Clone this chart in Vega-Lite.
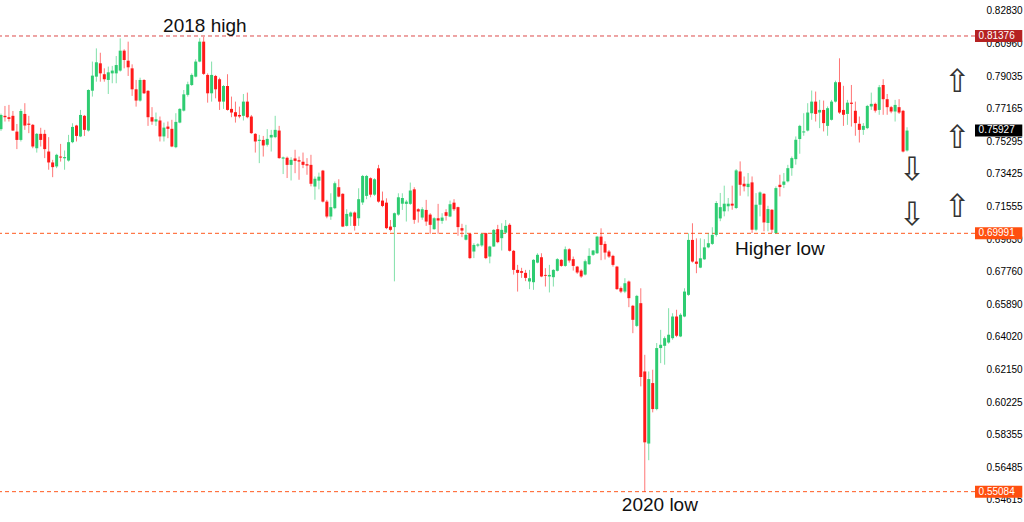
{
  "$schema": "https://vega.github.io/schema/vega-lite/v6.json",
  "autosize": {"type": "none"},
  "padding": {"left": 0, "top": 0, "right": 49, "bottom": 0},
  "width": 975,
  "height": 522,
  "background": "#ffffff",
  "config": {"view": {"stroke": null}, "axis": {"labelOverlap": false}},
  "datasets": {
    "candles": [
      {"i":0,"o":0.7600,"h":0.7690,"l":0.7590,"c":0.7682},
      {"i":1,"o":0.7677,"h":0.7734,"l":0.7644,"c":0.7669},
      {"i":2,"o":0.7669,"h":0.7740,"l":0.7644,"c":0.7659},
      {"i":3,"o":0.7677,"h":0.7705,"l":0.7590,"c":0.7592},
      {"i":4,"o":0.7586,"h":0.7630,"l":0.7485,"c":0.7538},
      {"i":5,"o":0.7538,"h":0.7717,"l":0.7529,"c":0.7705},
      {"i":6,"o":0.7688,"h":0.7750,"l":0.7596,"c":0.7621},
      {"i":7,"o":0.7632,"h":0.7677,"l":0.7577,"c":0.7625},
      {"i":8,"o":0.7625,"h":0.7630,"l":0.7490,"c":0.7500},
      {"i":9,"o":0.7490,"h":0.7578,"l":0.7465,"c":0.7573},
      {"i":10,"o":0.7573,"h":0.7608,"l":0.7500,"c":0.7538},
      {"i":11,"o":0.7573,"h":0.7596,"l":0.7433,"c":0.7485},
      {"i":12,"o":0.7471,"h":0.7554,"l":0.7366,"c":0.7408},
      {"i":13,"o":0.7408,"h":0.7423,"l":0.7323,"c":0.7381},
      {"i":14,"o":0.7385,"h":0.7458,"l":0.7375,"c":0.7452},
      {"i":15,"o":0.7442,"h":0.7515,"l":0.7413,"c":0.7436},
      {"i":16,"o":0.7432,"h":0.7477,"l":0.7366,"c":0.7439},
      {"i":17,"o":0.7419,"h":0.7567,"l":0.7413,"c":0.7525},
      {"i":18,"o":0.7525,"h":0.7634,"l":0.7519,"c":0.7613},
      {"i":19,"o":0.7621,"h":0.7625,"l":0.7529,"c":0.7561},
      {"i":20,"o":0.7558,"h":0.7711,"l":0.7554,"c":0.7682},
      {"i":21,"o":0.7677,"h":0.7682,"l":0.7561,"c":0.7596},
      {"i":22,"o":0.7592,"h":0.7830,"l":0.7586,"c":0.7826},
      {"i":23,"o":0.7822,"h":0.7990,"l":0.7788,"c":0.7909},
      {"i":24,"o":0.7903,"h":0.8066,"l":0.7874,"c":0.7986},
      {"i":25,"o":0.7980,"h":0.8041,"l":0.7874,"c":0.7922},
      {"i":26,"o":0.7917,"h":0.7951,"l":0.7874,"c":0.7888},
      {"i":27,"o":0.7884,"h":0.7961,"l":0.7803,"c":0.7928},
      {"i":28,"o":0.7922,"h":0.7965,"l":0.7865,"c":0.7938},
      {"i":29,"o":0.7922,"h":0.8022,"l":0.7865,"c":0.7970},
      {"i":30,"o":0.7938,"h":0.8124,"l":0.7932,"c":0.8053},
      {"i":31,"o":0.8053,"h":0.8061,"l":0.7951,"c":0.7999},
      {"i":32,"o":0.7995,"h":0.8105,"l":0.7907,"c":0.7957},
      {"i":33,"o":0.7951,"h":0.7974,"l":0.7792,"c":0.7830},
      {"i":34,"o":0.7830,"h":0.7884,"l":0.7730,"c":0.7765},
      {"i":35,"o":0.7765,"h":0.7897,"l":0.7759,"c":0.7884},
      {"i":36,"o":0.7884,"h":0.7888,"l":0.7803,"c":0.7807},
      {"i":37,"o":0.7821,"h":0.7826,"l":0.7619,"c":0.7669},
      {"i":38,"o":0.7669,"h":0.7727,"l":0.7625,"c":0.7644},
      {"i":39,"o":0.7644,"h":0.7696,"l":0.7619,"c":0.7657},
      {"i":40,"o":0.7650,"h":0.7673,"l":0.7529,"c":0.7558},
      {"i":41,"o":0.7558,"h":0.7638,"l":0.7529,"c":0.7609},
      {"i":42,"o":0.7615,"h":0.7644,"l":0.7548,"c":0.7602},
      {"i":43,"o":0.7602,"h":0.7654,"l":0.7496,"c":0.7500},
      {"i":44,"o":0.7496,"h":0.7692,"l":0.7490,"c":0.7642},
      {"i":45,"o":0.7638,"h":0.7721,"l":0.7634,"c":0.7717},
      {"i":46,"o":0.7707,"h":0.7826,"l":0.7702,"c":0.7801},
      {"i":47,"o":0.7798,"h":0.7874,"l":0.7788,"c":0.7859},
      {"i":48,"o":0.7855,"h":0.7922,"l":0.7849,"c":0.7913},
      {"i":49,"o":0.7903,"h":0.8003,"l":0.7899,"c":0.7990},
      {"i":50,"o":0.7990,"h":0.8125,"l":0.7986,"c":0.8105},
      {"i":51,"o":0.8105,"h":0.8132,"l":0.7913,"c":0.7919},
      {"i":52,"o":0.7913,"h":0.7922,"l":0.7753,"c":0.7807},
      {"i":53,"o":0.7807,"h":0.7990,"l":0.7759,"c":0.7913},
      {"i":54,"o":0.7907,"h":0.7913,"l":0.7778,"c":0.7830},
      {"i":55,"o":0.7888,"h":0.7897,"l":0.7711,"c":0.7759},
      {"i":56,"o":0.7759,"h":0.7855,"l":0.7717,"c":0.7849},
      {"i":57,"o":0.7849,"h":0.7917,"l":0.7707,"c":0.7711},
      {"i":58,"o":0.7717,"h":0.7788,"l":0.7669,"c":0.7696},
      {"i":59,"o":0.7698,"h":0.7759,"l":0.7638,"c":0.7673},
      {"i":60,"o":0.7682,"h":0.7730,"l":0.7663,"c":0.7673},
      {"i":61,"o":0.7677,"h":0.7803,"l":0.7650,"c":0.7759},
      {"i":62,"o":0.7759,"h":0.7811,"l":0.7663,"c":0.7669},
      {"i":63,"o":0.7673,"h":0.7682,"l":0.7573,"c":0.7577},
      {"i":64,"o":0.7573,"h":0.7577,"l":0.7465,"c":0.7529},
      {"i":65,"o":0.7532,"h":0.7567,"l":0.7404,"c":0.7539},
      {"i":66,"o":0.7538,"h":0.7561,"l":0.7442,"c":0.7506},
      {"i":67,"o":0.7510,"h":0.7600,"l":0.7500,"c":0.7544},
      {"i":68,"o":0.7552,"h":0.7596,"l":0.7471,"c":0.7567},
      {"i":69,"o":0.7554,"h":0.7677,"l":0.7548,"c":0.7596},
      {"i":70,"o":0.7592,"h":0.7619,"l":0.7429,"c":0.7433},
      {"i":71,"o":0.7430,"h":0.7442,"l":0.7341,"c":0.7437},
      {"i":72,"o":0.7435,"h":0.7442,"l":0.7318,"c":0.7394},
      {"i":73,"o":0.7394,"h":0.7438,"l":0.7304,"c":0.7423},
      {"i":74,"o":0.7431,"h":0.7481,"l":0.7346,"c":0.7417},
      {"i":75,"o":0.7421,"h":0.7442,"l":0.7308,"c":0.7413},
      {"i":76,"o":0.7412,"h":0.7465,"l":0.7375,"c":0.7394},
      {"i":77,"o":0.7398,"h":0.7433,"l":0.7337,"c":0.7390},
      {"i":78,"o":0.7394,"h":0.7452,"l":0.7270,"c":0.7285},
      {"i":79,"o":0.7269,"h":0.7327,"l":0.7193,"c":0.7314},
      {"i":80,"o":0.7303,"h":0.7349,"l":0.7253,"c":0.7326},
      {"i":81,"o":0.7361,"h":0.7365,"l":0.7177,"c":0.7182},
      {"i":82,"o":0.7182,"h":0.7192,"l":0.7086,"c":0.7096},
      {"i":83,"o":0.7096,"h":0.7230,"l":0.7077,"c":0.7150},
      {"i":84,"o":0.7144,"h":0.7298,"l":0.7138,"c":0.7288},
      {"i":85,"o":0.7265,"h":0.7311,"l":0.7207,"c":0.7211},
      {"i":86,"o":0.7227,"h":0.7230,"l":0.7035,"c":0.7038},
      {"i":87,"o":0.7042,"h":0.7138,"l":0.7038,"c":0.7111},
      {"i":88,"o":0.7096,"h":0.7125,"l":0.7042,"c":0.7119},
      {"i":89,"o":0.7119,"h":0.7125,"l":0.7015,"c":0.7042},
      {"i":90,"o":0.7086,"h":0.7259,"l":0.7042,"c":0.7196},
      {"i":91,"o":0.7177,"h":0.7336,"l":0.7163,"c":0.7330},
      {"i":92,"o":0.7215,"h":0.7336,"l":0.7196,"c":0.7330},
      {"i":93,"o":0.7317,"h":0.7322,"l":0.7207,"c":0.7222},
      {"i":94,"o":0.7222,"h":0.7317,"l":0.7215,"c":0.7311},
      {"i":95,"o":0.7374,"h":0.7394,"l":0.7176,"c":0.7182},
      {"i":96,"o":0.7188,"h":0.7240,"l":0.7150,"c":0.7157},
      {"i":97,"o":0.7176,"h":0.7201,"l":0.7023,"c":0.7029},
      {"i":98,"o":0.7038,"h":0.7076,"l":0.7010,"c":0.7019},
      {"i":99,"o":0.7035,"h":0.7119,"l":0.6722,"c":0.7115},
      {"i":100,"o":0.7107,"h":0.7230,"l":0.7100,"c":0.7207},
      {"i":101,"o":0.7170,"h":0.7230,"l":0.7134,"c":0.7203},
      {"i":102,"o":0.7169,"h":0.7192,"l":0.7067,"c":0.7182},
      {"i":103,"o":0.7169,"h":0.7292,"l":0.7163,"c":0.7246},
      {"i":104,"o":0.7253,"h":0.7265,"l":0.7054,"c":0.7077},
      {"i":105,"o":0.7138,"h":0.7144,"l":0.7061,"c":0.7125},
      {"i":106,"o":0.7090,"h":0.7150,"l":0.7077,"c":0.7138},
      {"i":107,"o":0.7134,"h":0.7192,"l":0.7042,"c":0.7067},
      {"i":108,"o":0.7107,"h":0.7115,"l":0.6996,"c":0.7048},
      {"i":109,"o":0.7023,"h":0.7092,"l":0.7019,"c":0.7086},
      {"i":110,"o":0.7086,"h":0.7169,"l":0.6996,"c":0.7073},
      {"i":111,"o":0.7071,"h":0.7115,"l":0.7054,"c":0.7090},
      {"i":112,"o":0.7121,"h":0.7138,"l":0.7073,"c":0.7100},
      {"i":113,"o":0.7096,"h":0.7188,"l":0.7092,"c":0.7167},
      {"i":114,"o":0.7176,"h":0.7196,"l":0.7128,"c":0.7138},
      {"i":115,"o":0.7150,"h":0.7153,"l":0.6985,"c":0.7035},
      {"i":116,"o":0.7029,"h":0.7054,"l":0.6977,"c":0.7015},
      {"i":117,"o":0.6962,"h":0.7048,"l":0.6958,"c":0.6990},
      {"i":118,"o":0.6996,"h":0.7000,"l":0.6850,"c":0.6856},
      {"i":119,"o":0.6894,"h":0.6942,"l":0.6856,"c":0.6932},
      {"i":120,"o":0.6928,"h":0.6942,"l":0.6919,"c":0.6935},
      {"i":121,"o":0.6929,"h":0.7000,"l":0.6921,"c":0.6996},
      {"i":122,"o":0.7000,"h":0.7003,"l":0.6850,"c":0.6856},
      {"i":123,"o":0.6865,"h":0.6927,"l":0.6826,"c":0.6923},
      {"i":124,"o":0.6923,"h":0.7023,"l":0.6921,"c":0.7019},
      {"i":125,"o":0.7023,"h":0.7048,"l":0.6942,"c":0.6948},
      {"i":126,"o":0.6971,"h":0.7057,"l":0.6900,"c":0.7019},
      {"i":127,"o":0.7003,"h":0.7076,"l":0.6996,"c":0.7042},
      {"i":128,"o":0.7048,"h":0.7057,"l":0.6894,"c":0.6898},
      {"i":129,"o":0.6898,"h":0.6903,"l":0.6761,"c":0.6788},
      {"i":130,"o":0.6788,"h":0.6817,"l":0.6663,"c":0.6771},
      {"i":131,"o":0.6781,"h":0.6800,"l":0.6742,"c":0.6771},
      {"i":132,"o":0.6771,"h":0.6788,"l":0.6723,"c":0.6742},
      {"i":133,"o":0.6721,"h":0.6788,"l":0.6677,"c":0.6740},
      {"i":134,"o":0.6717,"h":0.6850,"l":0.6673,"c":0.6846},
      {"i":135,"o":0.6830,"h":0.6884,"l":0.6826,"c":0.6875},
      {"i":136,"o":0.6861,"h":0.6884,"l":0.6746,"c":0.6750},
      {"i":137,"o":0.6759,"h":0.6798,"l":0.6692,"c":0.6754},
      {"i":138,"o":0.6750,"h":0.6817,"l":0.6658,"c":0.6759},
      {"i":139,"o":0.6746,"h":0.6792,"l":0.6692,"c":0.6788},
      {"i":140,"o":0.6783,"h":0.6856,"l":0.6779,"c":0.6850},
      {"i":141,"o":0.6846,"h":0.6850,"l":0.6806,"c":0.6811},
      {"i":142,"o":0.6811,"h":0.6923,"l":0.6806,"c":0.6907},
      {"i":143,"o":0.6907,"h":0.6913,"l":0.6830,"c":0.6842},
      {"i":144,"o":0.6850,"h":0.6865,"l":0.6784,"c":0.6811},
      {"i":145,"o":0.6807,"h":0.6811,"l":0.6765,"c":0.6773},
      {"i":146,"o":0.6784,"h":0.6792,"l":0.6742,"c":0.6750},
      {"i":147,"o":0.6761,"h":0.6848,"l":0.6756,"c":0.6838},
      {"i":148,"o":0.6821,"h":0.6913,"l":0.6816,"c":0.6869},
      {"i":149,"o":0.6875,"h":0.6903,"l":0.6869,"c":0.6900},
      {"i":150,"o":0.6884,"h":0.6984,"l":0.6880,"c":0.6980},
      {"i":151,"o":0.6980,"h":0.7028,"l":0.6844,"c":0.6932},
      {"i":152,"o":0.6938,"h":0.6953,"l":0.6848,"c":0.6888},
      {"i":153,"o":0.6894,"h":0.6903,"l":0.6857,"c":0.6865},
      {"i":154,"o":0.6869,"h":0.6875,"l":0.6807,"c":0.6817},
      {"i":155,"o":0.6807,"h":0.6811,"l":0.6673,"c":0.6677},
      {"i":156,"o":0.6683,"h":0.6692,"l":0.6654,"c":0.6663},
      {"i":157,"o":0.6663,"h":0.6740,"l":0.6654,"c":0.6711},
      {"i":158,"o":0.6721,"h":0.6727,"l":0.6573,"c":0.6625},
      {"i":159,"o":0.6581,"h":0.6586,"l":0.6423,"c":0.6500},
      {"i":160,"o":0.6465,"h":0.6644,"l":0.6458,"c":0.6638},
      {"i":161,"o":0.6596,"h":0.6682,"l":0.6116,"c":0.6170},
      {"i":162,"o":0.6202,"h":0.6298,"l":0.5508,"c":0.5793},
      {"i":163,"o":0.5786,"h":0.6202,"l":0.5690,"c":0.6158},
      {"i":164,"o":0.6135,"h":0.6212,"l":0.5966,"c":0.5985},
      {"i":165,"o":0.5985,"h":0.6366,"l":0.5978,"c":0.6337},
      {"i":166,"o":0.6337,"h":0.6442,"l":0.6250,"c":0.6356},
      {"i":167,"o":0.6350,"h":0.6404,"l":0.6241,"c":0.6394},
      {"i":168,"o":0.6369,"h":0.6567,"l":0.6362,"c":0.6414},
      {"i":169,"o":0.6394,"h":0.6538,"l":0.6385,"c":0.6519},
      {"i":170,"o":0.6519,"h":0.6558,"l":0.6400,"c":0.6408},
      {"i":171,"o":0.6404,"h":0.6538,"l":0.6400,"c":0.6529},
      {"i":172,"o":0.6519,"h":0.6682,"l":0.6515,"c":0.6663},
      {"i":173,"o":0.6644,"h":0.6999,"l":0.6638,"c":0.6961},
      {"i":174,"o":0.6961,"h":0.7057,"l":0.6830,"c":0.6836},
      {"i":175,"o":0.6836,"h":0.6970,"l":0.6769,"c":0.6823},
      {"i":176,"o":0.6801,"h":0.6970,"l":0.6798,"c":0.6855},
      {"i":177,"o":0.6849,"h":0.6965,"l":0.6846,"c":0.6918},
      {"i":178,"o":0.6918,"h":0.6999,"l":0.6913,"c":0.6942},
      {"i":179,"o":0.6938,"h":0.7034,"l":0.6932,"c":0.6990},
      {"i":180,"o":0.6990,"h":0.7185,"l":0.6980,"c":0.7174},
      {"i":181,"o":0.7085,"h":0.7232,"l":0.7069,"c":0.7150},
      {"i":182,"o":0.7126,"h":0.7274,"l":0.7097,"c":0.7170},
      {"i":183,"o":0.7155,"h":0.7203,"l":0.7126,"c":0.7170},
      {"i":184,"o":0.7170,"h":0.7274,"l":0.7135,"c":0.7159},
      {"i":185,"o":0.7145,"h":0.7370,"l":0.7139,"c":0.7362},
      {"i":186,"o":0.7356,"h":0.7414,"l":0.7216,"c":0.7279},
      {"i":187,"o":0.7285,"h":0.7327,"l":0.7241,"c":0.7270},
      {"i":188,"o":0.7266,"h":0.7347,"l":0.7212,"c":0.7285},
      {"i":189,"o":0.7293,"h":0.7327,"l":0.7001,"c":0.7020},
      {"i":190,"o":0.7020,"h":0.7231,"l":0.7011,"c":0.7164},
      {"i":191,"o":0.7164,"h":0.7241,"l":0.7097,"c":0.7235},
      {"i":192,"o":0.7227,"h":0.7231,"l":0.7011,"c":0.7062},
      {"i":193,"o":0.7059,"h":0.7158,"l":0.7011,"c":0.7139},
      {"i":194,"o":0.7135,"h":0.7139,"l":0.7001,"c":0.7020},
      {"i":195,"o":0.7001,"h":0.7270,"l":0.6997,"c":0.7260},
      {"i":196,"o":0.7279,"h":0.7337,"l":0.7212,"c":0.7266},
      {"i":197,"o":0.7279,"h":0.7347,"l":0.7260,"c":0.7298},
      {"i":198,"o":0.7299,"h":0.7394,"l":0.7293,"c":0.7375},
      {"i":199,"o":0.7375,"h":0.7442,"l":0.7331,"c":0.7433},
      {"i":200,"o":0.7427,"h":0.7558,"l":0.7395,"c":0.7539},
      {"i":201,"o":0.7543,"h":0.7625,"l":0.7458,"c":0.7619},
      {"i":202,"o":0.7581,"h":0.7692,"l":0.7562,"c":0.7587},
      {"i":203,"o":0.7592,"h":0.7750,"l":0.7587,"c":0.7696},
      {"i":204,"o":0.7692,"h":0.7823,"l":0.7654,"c":0.7759},
      {"i":205,"o":0.7759,"h":0.7817,"l":0.7644,"c":0.7688},
      {"i":206,"o":0.7696,"h":0.7769,"l":0.7606,"c":0.7711},
      {"i":207,"o":0.7711,"h":0.7765,"l":0.7587,"c":0.7635},
      {"i":208,"o":0.7619,"h":0.7731,"l":0.7562,"c":0.7721},
      {"i":209,"o":0.7654,"h":0.7769,"l":0.7650,"c":0.7759},
      {"i":210,"o":0.7759,"h":0.7880,"l":0.7754,"c":0.7871},
      {"i":211,"o":0.7871,"h":0.8009,"l":0.7688,"c":0.7696},
      {"i":212,"o":0.7711,"h":0.7850,"l":0.7619,"c":0.7683},
      {"i":213,"o":0.7688,"h":0.7769,"l":0.7625,"c":0.7753},
      {"i":214,"o":0.7753,"h":0.7855,"l":0.7615,"c":0.7746},
      {"i":215,"o":0.7706,"h":0.7759,"l":0.7562,"c":0.7635},
      {"i":216,"o":0.7631,"h":0.7673,"l":0.7523,"c":0.7596},
      {"i":217,"o":0.7596,"h":0.7635,"l":0.7567,"c":0.7619},
      {"i":218,"o":0.7606,"h":0.7740,"l":0.7600,"c":0.7734},
      {"i":219,"o":0.7731,"h":0.7811,"l":0.7711,"c":0.7746},
      {"i":220,"o":0.7746,"h":0.7753,"l":0.7696,"c":0.7707},
      {"i":221,"o":0.7711,"h":0.7855,"l":0.7683,"c":0.7842},
      {"i":222,"o":0.7855,"h":0.7888,"l":0.7683,"c":0.7773},
      {"i":223,"o":0.7773,"h":0.7803,"l":0.7683,"c":0.7727},
      {"i":224,"o":0.7727,"h":0.7734,"l":0.7692,"c":0.7702},
      {"i":225,"o":0.7702,"h":0.7769,"l":0.7644,"c":0.7740},
      {"i":226,"o":0.7727,"h":0.7773,"l":0.7688,"c":0.7696},
      {"i":227,"o":0.7706,"h":0.7711,"l":0.7466,"c":0.7471},
      {"i":228,"o":0.7477,"h":0.7611,"l":0.7471,"c":0.7592}
    ],
    "levels": [
      {"price":0.81376,"kind":"high","label":"0.81376"},
      {"price":0.75927,"kind":"current","label":"0.75927"},
      {"price":0.69991,"kind":"low","label":"0.69991"},
      {"price":0.55084,"kind":"low","label":"0.55084"}
    ],
    "arrows": [
      {"i":240.6,"p":0.7872,"g":"⇧"},
      {"i":240.6,"p":0.7549,"g":"⇧"},
      {"i":240.6,"p":0.7151,"g":"⇧"},
      {"i":229.2,"p":0.7364,"g":"⇩"},
      {"i":229.2,"p":0.7105,"g":"⇩"}
    ],
    "notes": [
      {"i":51.3,"p":0.8196,"t":"2018 high"},
      {"i":196.0,"p":0.6910,"t":"Higher low"},
      {"i":165.8,"p":0.5432,"t":"2020 low"}
    ]
  },
  "encoding": {
    "x": {"type": "quantitative", "scale": {"domain": [-0.25, 245.1], "nice": false, "zero": false}, "axis": null},
    "y": {"type": "quantitative", "scale": {"domain": [0.53334, 0.83453], "nice": false, "zero": false},
      "axis": {"orient": "right", "title": null, "domain": false, "ticks": false, "grid": false,
        "labelPadding": 11, "labelFont": "Liberation Sans", "labelFontSize": 10, "labelColor": "#000000",
        "labelOverlap": false, "labelFlush": false, "labelBound": false,
        "format": ".5f",
        "values": [0.8283, 0.8096, 0.79035, 0.77165, 0.75295, 0.73425, 0.71555, 0.6963, 0.6776, 0.6589, 0.6402, 0.6215, 0.60225, 0.58355, 0.56485, 0.54615]}}
  },
  "layer": [
    {
      "data": {"name": "levels"},
      "transform": [{"filter": "datum.kind != 'current'"}],
      "mark": {"type": "rule", "strokeDash": [4, 3], "strokeWidth": 1},
      "encoding": {
        "y": {"field": "price", "type": "quantitative"},
        "color": {"condition": {"test": "datum.kind == 'high'", "value": "#dd4a4a"}, "value": "#ff5a1f"}
      }
    },
    {
      "data": {"name": "candles"},
      "mark": {"type": "rule", "strokeWidth": 1, "opacity": 0.6},
      "encoding": {
        "x": {"field": "i", "type": "quantitative"},
        "y": {"field": "l", "type": "quantitative"},
        "y2": {"field": "h"},
        "color": {"condition": {"test": "datum.c >= datum.o", "value": "#2ecc71"}, "value": "#ff1a1a"}
      }
    },
    {
      "data": {"name": "candles"},
      "mark": {"type": "rule", "strokeWidth": 3, "strokeCap": "butt"},
      "encoding": {
        "x": {"field": "i", "type": "quantitative"},
        "y": {"field": "o", "type": "quantitative"},
        "y2": {"field": "c"},
        "color": {"condition": {"test": "datum.c >= datum.o", "value": "#2ecc71"}, "value": "#ff1a1a"}
      }
    },
    {
      "data": {"name": "levels"},
      "mark": {"type": "rule", "strokeWidth": 12, "strokeCap": "butt", "clip": false},
      "encoding": {
        "x": {"datum": 245.1},
        "x2": {"datum": 257.0},
        "y": {"field": "price", "type": "quantitative"},
        "color": {"condition": [{"test": "datum.kind == 'high'", "value": "#b52222"}, {"test": "datum.kind == 'current'", "value": "#000000"}], "value": "#ff4f0f"}
      }
    },
    {
      "data": {"name": "levels"},
      "mark": {"type": "text", "align": "left", "baseline": "middle", "font": "Liberation Sans", "fontSize": 10, "color": "#ffffff", "clip": false},
      "encoding": {
        "x": {"datum": 246.0},
        "y": {"field": "price", "type": "quantitative"},
        "text": {"field": "label"}
      }
    },
    {
      "data": {"name": "arrows"},
      "mark": {"type": "text", "align": "center", "baseline": "middle", "font": "DejaVu Sans", "fontSize": 32, "color": "#333333"},
      "encoding": {
        "x": {"field": "i", "type": "quantitative"},
        "y": {"field": "p", "type": "quantitative"},
        "text": {"field": "g"}
      }
    },
    {
      "data": {"name": "notes"},
      "mark": {"type": "text", "align": "center", "baseline": "middle", "font": "Liberation Sans", "fontSize": 19, "color": "#111111"},
      "encoding": {
        "x": {"field": "i", "type": "quantitative"},
        "y": {"field": "p", "type": "quantitative"},
        "text": {"field": "t"}
      }
    }
  ]
}
